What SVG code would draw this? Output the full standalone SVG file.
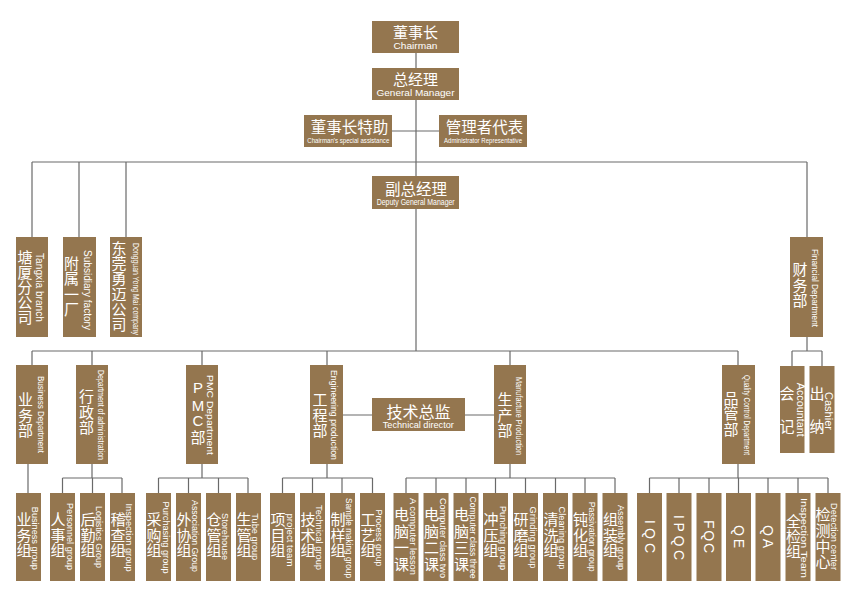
<svg xmlns="http://www.w3.org/2000/svg" width="858" height="599" viewBox="0 0 858 599">
<style>
.b{fill:#94764f}
.c{font-family:"Noto Sans CJK SC",sans-serif;fill:#fff;text-anchor:middle;font-size:15px}
.v{font-family:"Noto Sans CJK SC",sans-serif;fill:#fff;font-size:15px;writing-mode:vertical-rl;letter-spacing:0.5px}
.e{font-family:"Liberation Sans",Arial,sans-serif;fill:#fff;text-anchor:middle;font-size:9px}
.r{font-family:"Liberation Sans",Arial,sans-serif;fill:#fff;text-anchor:middle;dominant-baseline:central;font-size:9px}
.q{font-family:"Liberation Sans",Arial,sans-serif;fill:#fff;text-anchor:middle;dominant-baseline:central;font-size:14px}
.l{stroke:#6a6a6a;stroke-width:1.2;fill:none}
</style>
<rect width="858" height="599" fill="#fff"/>
<g id="connectors" class="l">
<path d="M416 53V68M416 100V176M392 131H439M32 162H807M32 162V237M79 162V237M126 162V237M807 162V237"/>
<path d="M416 209V351M32 351H738M32 351V365M92 351V365M202 351V365M327 351V365M510 351V365M738 351V365"/>
<path d="M343 415H372M465 415H494"/>
<path d="M807 337V351M792 351H822M792 351V366M822 351V366"/>
<path d="M28 464V493"/>
<path d="M92 464V478M62.5 478H122M62.5 478V493M92.5 478V493M122 478V493"/>
<path d="M202 464V478M158.5 478H248M158.5 478V493M188.5 478V493M218.5 478V493M248 478V493"/>
<path d="M327 464V478M282.5 478H372.5M282.5 478V493M312.5 478V493M342 478V493M372.5 478V493"/>
<path d="M510 464V478M406 478H615M406 478V493M436 478V493M466 478V493M495.5 478V493M525.5 478V493M555.5 478V493M585 478V493M615 478V493"/>
<path d="M738 464V478M649.5 478H828M649.5 478V493M679 478V493M709 478V493M738.5 478V493M768 478V493M798 478V493M828 478V493"/>
</g>

<g id="chairman"><rect class="b" x="372" y="21" width="87" height="32"/>
<text class="c" x="415.5" y="38">董事长</text>
<text class="e" x="415.5" y="49" style="font-size:9.5px" textLength="44" lengthAdjust="spacingAndGlyphs">Chairman</text></g>

<g id="general-manager"><rect class="b" x="372" y="68" width="87" height="32"/>
<text class="c" x="415.5" y="85">总经理</text>
<text class="e" x="415.5" y="95.5" style="font-size:9.5px" textLength="78" lengthAdjust="spacingAndGlyphs">General Manager</text></g>

<g id="chairman-assistant"><rect class="b" x="304" y="115" width="88" height="32"/>
<text class="c" x="349.5" y="133" style="font-size:15.5px">董事长特助</text>
<text class="e" x="348.3" y="142.5" style="font-size:8px" textLength="82" lengthAdjust="spacingAndGlyphs">Chairman's special assistance</text></g>

<g id="admin-rep"><rect class="b" x="439" y="115" width="88" height="32"/>
<text class="c" x="484.5" y="133" style="font-size:15.5px">管理者代表</text>
<text class="e" x="483" y="142.5" style="font-size:8px" textLength="78" lengthAdjust="spacingAndGlyphs">Administrator Representative</text></g>

<g id="deputy-gm"><rect class="b" x="372" y="176" width="87" height="33"/>
<text class="c" x="416" y="195" style="font-size:15.5px">副总经理</text>
<text class="e" x="415.7" y="205" style="font-size:8.5px" textLength="78" lengthAdjust="spacingAndGlyphs">Deputy General Manager</text></g>

<g id="tangxia"><rect class="b" x="16" y="237" width="32" height="100"/>
<text class="v" x="25" y="249.7" style="letter-spacing:0">塘厦分公司</text>
<text class="r" style="font-size:10px" transform="translate(39.5 287.5) rotate(90)" textLength="69" lengthAdjust="spacingAndGlyphs">Tangxia branch</text></g>

<g id="subsidiary"><rect class="b" x="63" y="237" width="33" height="100"/>
<text class="v" x="71.5" y="255.7">附属一厂</text>
<text class="r" style="font-size:10px" transform="translate(87.5 290) rotate(90)" textLength="80" lengthAdjust="spacingAndGlyphs">Subsidiary factory</text></g>

<g id="dongguan"><rect class="b" x="110" y="237" width="32" height="100"/>
<text class="v" x="119" y="240.7" style="letter-spacing:0.3px">东莞勇迈公司</text>
<text class="r" transform="translate(136 289) rotate(90)" textLength="92" lengthAdjust="spacingAndGlyphs">Dongguan Yong Mai company</text></g>

<g id="finance"><rect class="b" x="790" y="237" width="33" height="100"/>
<text class="v" x="800" y="262">财务部</text>
<text class="r" style="font-size:9.5px" transform="translate(815.5 288) rotate(90)" textLength="78" lengthAdjust="spacingAndGlyphs">Financial Department</text></g>

<g id="business-dept"><rect class="b" x="16" y="365" width="32" height="99"/>
<text class="v" x="25.5" y="392">业务部</text>
<text class="r" transform="translate(41 414.5) rotate(90)" textLength="77" lengthAdjust="spacingAndGlyphs">Business Department</text></g>

<g id="admin-dept"><rect class="b" x="76" y="365" width="32" height="99"/>
<text class="v" x="86.5" y="389">行政部</text>
<text class="r" transform="translate(100.5 415) rotate(90)" textLength="90" lengthAdjust="spacingAndGlyphs">Department of administration</text></g>

<g id="pmc-dept"><rect class="b" x="186" y="365" width="32" height="99"/>
<text class="e" style="font-size:15px"><tspan x="198" y="393.3">P</tspan><tspan x="198" y="410.5">M</tspan><tspan x="198" y="426.3">C</tspan></text>
<text class="v" x="198" y="430">部</text>
<text class="r" transform="translate(210 415) rotate(90)" textLength="80" lengthAdjust="spacingAndGlyphs">PMC Department</text></g>

<g id="engineering-dept"><rect class="b" x="310" y="365" width="33" height="99"/>
<text class="v" x="320" y="392">工程部</text>
<text class="r" transform="translate(334 415) rotate(90)" textLength="90" lengthAdjust="spacingAndGlyphs">Engineering production</text></g>

<g id="technical-director"><rect class="b" x="372" y="398" width="93" height="33"/>
<text class="c" x="418.5" y="418" style="font-size:16px">技术总监</text>
<text class="e" x="418.3" y="428" style="font-size:9.5px" textLength="71" lengthAdjust="spacingAndGlyphs">Technical director</text></g>

<g id="production-dept"><rect class="b" x="494" y="365" width="32" height="99"/>
<text class="v" x="505" y="392">生产部</text>
<text class="r" transform="translate(519 416) rotate(90)" textLength="78" lengthAdjust="spacingAndGlyphs">Manufacture Production</text></g>

<g id="qc-dept"><rect class="b" x="722" y="365" width="33" height="99"/>
<text class="v" x="731" y="390.7">品管部</text>
<text class="r" transform="translate(747 415) rotate(90)" textLength="80" lengthAdjust="spacingAndGlyphs">Quality Control Department</text></g>

<g id="accountant"><rect class="b" x="780" y="366" width="24.5" height="87"/>
<text class="v" x="787" y="385.7" style="letter-spacing:18.3px">会记</text>
<text class="r" style="font-size:10px" transform="translate(800 409.7) rotate(90)" textLength="54" lengthAdjust="spacingAndGlyphs">Accountant</text></g>

<g id="cashier"><rect class="b" x="809.5" y="366" width="25" height="87"/>
<text class="v" x="817" y="385.7" style="letter-spacing:18.3px">出纳</text>
<text class="r" style="font-size:10px" transform="translate(828.5 411) rotate(90)" textLength="38" lengthAdjust="spacingAndGlyphs">Cashier</text></g>

<g id="business-group"><rect class="b" x="16" y="493" width="25" height="88"/>
<text class="v" x="24" y="512.3">业务组</text>
<text class="r" transform="translate(35 538.3) rotate(90)" textLength="63" lengthAdjust="spacingAndGlyphs">Business group</text></g>

<g id="personnel-group"><rect class="b" x="50" y="493" width="25" height="88"/>
<text class="v" x="58" y="512.3">人事组</text>
<text class="r" transform="translate(69.5 536.5) rotate(90)" textLength="67" lengthAdjust="spacingAndGlyphs">Personnel group</text></g>

<g id="logistics-group"><rect class="b" x="80" y="493" width="25" height="88"/>
<text class="v" x="88" y="512.3">后勤组</text>
<text class="r" transform="translate(99 537) rotate(90)" textLength="62" lengthAdjust="spacingAndGlyphs">Logistics Group</text></g>

<g id="inspection-group"><rect class="b" x="110" y="493" width="25" height="88"/>
<text class="v" x="118" y="512.3">稽查组</text>
<text class="r" transform="translate(129 537.5) rotate(90)" textLength="68" lengthAdjust="spacingAndGlyphs">Inspection group</text></g>

<g id="purchasing-group"><rect class="b" x="146" y="493" width="25" height="88"/>
<text class="v" x="154" y="512.3">采购组</text>
<text class="r" transform="translate(165.5 537.5) rotate(90)" textLength="72" lengthAdjust="spacingAndGlyphs">Purchasing group</text></g>

<g id="association-group"><rect class="b" x="176" y="493" width="25" height="88"/>
<text class="v" x="184" y="512.3">外协组</text>
<text class="r" transform="translate(195 536) rotate(90)" textLength="72" lengthAdjust="spacingAndGlyphs">Association Group</text></g>

<g id="storehouse"><rect class="b" x="206" y="493" width="25" height="88"/>
<text class="v" x="214" y="512.3">仓管组</text>
<text class="r" transform="translate(225 536.5) rotate(90)" textLength="47" lengthAdjust="spacingAndGlyphs">Storehouse</text></g>

<g id="tube-group"><rect class="b" x="236" y="493" width="25" height="88"/>
<text class="v" x="244" y="512.3">生管组</text>
<text class="r" transform="translate(255 536.7) rotate(90)" textLength="47" lengthAdjust="spacingAndGlyphs">Tube group</text></g>

<g id="project-team"><rect class="b" x="270" y="493" width="25" height="88"/>
<text class="v" x="278" y="512.3">项目组</text>
<text class="r" transform="translate(290 540) rotate(90)" textLength="53" lengthAdjust="spacingAndGlyphs">project team</text></g>

<g id="technical-group"><rect class="b" x="300" y="493" width="25" height="88"/>
<text class="v" x="308" y="512.3">技术组</text>
<text class="r" transform="translate(318.5 537.5) rotate(90)" textLength="65" lengthAdjust="spacingAndGlyphs">Technical group</text></g>

<g id="sample-group"><rect class="b" x="330" y="493" width="25" height="88"/>
<text class="v" x="338" y="512.3">制样组</text>
<text class="r" transform="translate(348.5 538) rotate(90)" textLength="80" lengthAdjust="spacingAndGlyphs">Sample making group</text></g>

<g id="process-group"><rect class="b" x="360" y="493" width="25" height="88"/>
<text class="v" x="368" y="512.3">工艺组</text>
<text class="r" transform="translate(378.5 538) rotate(90)" textLength="57" lengthAdjust="spacingAndGlyphs">Process group</text></g>

<g id="computer-1"><rect class="b" x="393.5" y="493" width="25" height="88"/>
<text class="v" x="401.5" y="507" style="letter-spacing:1.5px">电脑一课</text>
<text class="r" transform="translate(413 536.5) rotate(90)" textLength="77" lengthAdjust="spacingAndGlyphs">A computer lesson</text></g>

<g id="computer-2"><rect class="b" x="423.5" y="493" width="25" height="88"/>
<text class="v" x="431.5" y="507" style="letter-spacing:1.5px">电脑二课</text>
<text class="r" transform="translate(443 538) rotate(90)" textLength="80" lengthAdjust="spacingAndGlyphs">Computer class two</text></g>

<g id="computer-3"><rect class="b" x="453.5" y="493" width="25" height="88"/>
<text class="v" x="461.5" y="507" style="letter-spacing:1.5px">电脑三课</text>
<text class="r" transform="translate(472.5 537.5) rotate(90)" textLength="82" lengthAdjust="spacingAndGlyphs">Computer class three</text></g>

<g id="punching-group"><rect class="b" x="483" y="493" width="25" height="88"/>
<text class="v" x="491" y="512.3">冲压组</text>
<text class="r" transform="translate(503 538) rotate(90)" textLength="64" lengthAdjust="spacingAndGlyphs">Punching group</text></g>

<g id="grinding-group"><rect class="b" x="513" y="493" width="25" height="88"/>
<text class="v" x="521" y="512.3">研磨组</text>
<text class="r" transform="translate(532.5 537.5) rotate(90)" textLength="62" lengthAdjust="spacingAndGlyphs">Grinding group</text></g>

<g id="cleaning-group"><rect class="b" x="543" y="493" width="25" height="88"/>
<text class="v" x="551" y="512.3">清洗组</text>
<text class="r" transform="translate(562 538) rotate(90)" textLength="63" lengthAdjust="spacingAndGlyphs">Cleaning group</text></g>

<g id="passivation-group"><rect class="b" x="572.5" y="493" width="25" height="88"/>
<text class="v" x="580.5" y="512.3">钝化组</text>
<text class="r" transform="translate(591.5 536.7) rotate(90)" textLength="70" lengthAdjust="spacingAndGlyphs">Passivation group</text></g>

<g id="assembly-group"><rect class="b" x="602.5" y="493" width="25" height="88"/>
<text class="v" x="610.5" y="512.3">组装组</text>
<text class="r" transform="translate(621 537.5) rotate(90)" textLength="65" lengthAdjust="spacingAndGlyphs">Assembly group</text></g>

<g id="iqc"><rect class="b" x="637" y="493" width="25" height="88"/>
<text class="q" transform="translate(649.5 536.5) rotate(90)" textLength="33" lengthAdjust="spacing">IQC</text></g>

<g id="ipqc"><rect class="b" x="666.5" y="493" width="25" height="88"/>
<text class="q" transform="translate(679 537.5) rotate(90)" textLength="45" lengthAdjust="spacing">IPQC</text></g>

<g id="fqc"><rect class="b" x="696.5" y="493" width="25" height="88"/>
<text class="q" transform="translate(709 536.5) rotate(90)" textLength="33" lengthAdjust="spacing">FQC</text></g>

<g id="qe"><rect class="b" x="726" y="493" width="25" height="88"/>
<text class="q" transform="translate(738.5 536.5) rotate(90)" textLength="23" lengthAdjust="spacing">QE</text></g>

<g id="qa"><rect class="b" x="755.5" y="493" width="25" height="88"/>
<text class="q" transform="translate(768 536.5) rotate(90)" textLength="23" lengthAdjust="spacing">QA</text></g>

<g id="full-inspection"><rect class="b" x="785.5" y="493" width="25" height="88"/>
<text class="v" x="793.5" y="514" style="letter-spacing:0">全检组</text>
<text class="r" transform="translate(804 538) rotate(90)" textLength="80" lengthAdjust="spacingAndGlyphs">Inspection Team</text></g>

<g id="detection-center"><rect class="b" x="815.5" y="493" width="25" height="88"/>
<text class="v" x="823" y="507" style="letter-spacing:0.7px">检测中心</text>
<text class="r" transform="translate(834 536.5) rotate(90)" textLength="67" lengthAdjust="spacingAndGlyphs">Detection center</text></g>
</svg>
